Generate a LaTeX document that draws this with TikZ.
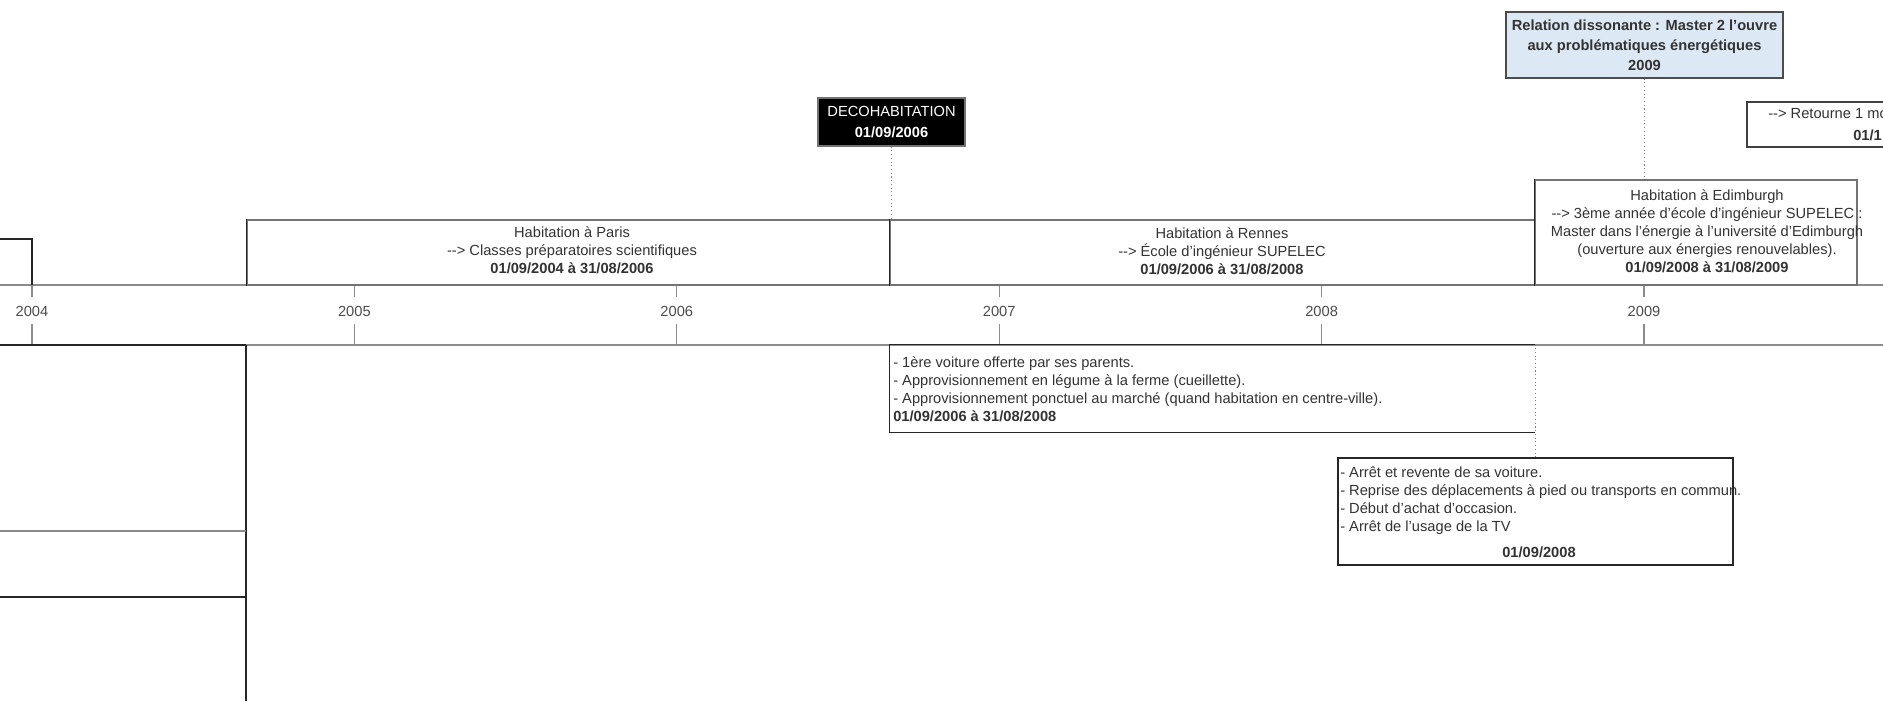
\documentclass[tikz,border=0pt]{standalone}
\usepackage{fontspec}
\setmainfont{Liberation Sans}
\usetikzlibrary{fit,calc}

\definecolor{bleuclair}{HTML}{DCE8F4}
\definecolor{gristrait}{HTML}{8C8C8C}
\definecolor{gristexte}{HTML}{333333}

\begin{document}
\begin{tikzpicture}[x=0.75pt,y=-0.75pt,
  trait/.style={draw=black!85, line width=0.9pt},
  axe/.style={draw=gristrait, line width=0.9pt},
  pointille/.style={draw=gray, dotted, line width=0.8pt},
  boite/.style={draw=black!55, inner sep=0pt, line width=0.9pt},
  txt/.style={font=\fontsize{11}{13.5}\selectfont, text=gristexte, inner sep=0pt},
  annee/.style={txt, text=black!70}]

\fill[white] (0,0) rectangle (1883,701);
\useasboundingbox (0,0) rectangle (1883,701);
\clip (0,0) rectangle (1883,701);

% bande des annees
\coordinate (haut) at (0,285);
\coordinate (bas) at (0,345);
\draw[axe] (haut) -- (1883,285);
\draw[axe] (bas) -- (1883,345);
\foreach \an [count=\i from 0] in {2004,...,2009} {
  \node[annee] (a\an) at (32+322.4*\i,311) {\an};
  \draw[axe] (a\an |- haut) -- ++(0,12);
  \draw[axe] (a\an |- bas) -- ++(0,-21);
}

% bords de gauche
\draw[trait] (0,239) -- (32,239) -- (32,285);
\draw[trait, line width=1.3pt] (bas) -- (246,345);
\draw[trait] (246,345) -- (246,701);
\draw[axe] (0,531) -- (246,531);
\draw[trait, line width=1.4pt] (0,597) -- (246,597);

% habitations
\node[boite, fit={(247,220) (890,285)}] (paris) {};
\node[boite, fit={(890,220) (1535,285)}] (rennes) {};
\node[boite, fit={(1535,180) (1857,285)}] (edim) {};
\draw[trait] (paris.north west) -- (paris.south west);
\draw[trait, line width=1.3pt] (rennes.north west) -- (rennes.south west);
\draw[trait] (edim.north west) -- (edim.south west);
\node[txt, align=center] (paris-txt) at (572,250) {Habitation à Paris\\-{}-> Classes préparatoires scientifiques\\\textbf{01/09/2004 à 31/08/2006}};
\node[txt, align=center] (rennes-txt) at (1222,251) {Habitation à Rennes\\-{}-> École d'ingénieur SUPELEC\\\textbf{01/09/2006 à 31/08/2008}};
\node[txt, align=center] (edim-txt) at (1707,231) {Habitation à Edimburgh\\-{}-> 3ème année d'école d'ingénieur SUPELEC :\\Master dans l'énergie à l'université d'Edimburgh\\(ouverture aux énergies renouvelables).\\\textbf{01/09/2008 à 31/08/2009}};

% evenements
\node[boite, fill=black, fit={(818,98) (965,146)}] (decohab) {};
\node[txt, text=white, align=center, font=\fontsize{11}{15.5}\selectfont] (decohab-txt) at (decohab.center) {DECOHABITATION\\\textbf{01/09/2006}};
\draw[pointille] (decohab.south) -- (decohab.south |- paris.north);

\node[boite, draw=black!70, fill=bleuclair, fit={(1506,12) (1783,78)}] (relation) {};
\node[txt, align=center, font=\fontsize{11}{15}\bfseries\selectfont] (relation-txt) at (relation.center) {Relation dissonante : Master 2 l'ouvre\\aux problématiques énergétiques\\2009};
\draw[pointille] (relation.south) -- (relation.south |- edim.north);

\node[boite, draw=black!75, fit={(1747,102) (1900,147)}] (retour) {};
\node[txt, anchor=west] (retour-txt) at (1768,114) {-{}-> Retourne 1 mo};
\node[txt, anchor=west, font=\fontsize{11}{13.5}\bfseries\selectfont] (retour-date) at (1853,135) {01/1};

% modes de vie
\node[inner sep=0pt, fit={(890,345) (1535,432)}] (vie1) {};
\draw[trait] (vie1.north east) -- (vie1.north west) -- (vie1.south west) -- (vie1.south east);
\node[txt, anchor=west, align=left] (vie1-txt) at (893,389) {- 1ère voiture offerte par ses parents.\\- Approvisionnement en légume à la ferme (cueillette).\\- Approvisionnement ponctuel au marché (quand habitation en centre-ville).\\\textbf{01/09/2006 à 31/08/2008}};

\node[boite, draw=black!85, fit={(1338,458) (1733,565)}] (vie2) {};
\node[txt, anchor=west, align=left] (vie2-txt) at (1340,501) {- Arrêt et revente de sa voiture.\\- Reprise des déplacements à pied ou transports en commun.\\- Début d'achat d'occasion.\\- Arrêt de l'usage de la TV};
\node[txt, font=\fontsize{11}{13.5}\bfseries\selectfont] (vie2-date) at (1539,552) {01/09/2008};
\draw[pointille] (vie2.north) -- (vie2.north |- bas);
\end{tikzpicture}
\end{document}
